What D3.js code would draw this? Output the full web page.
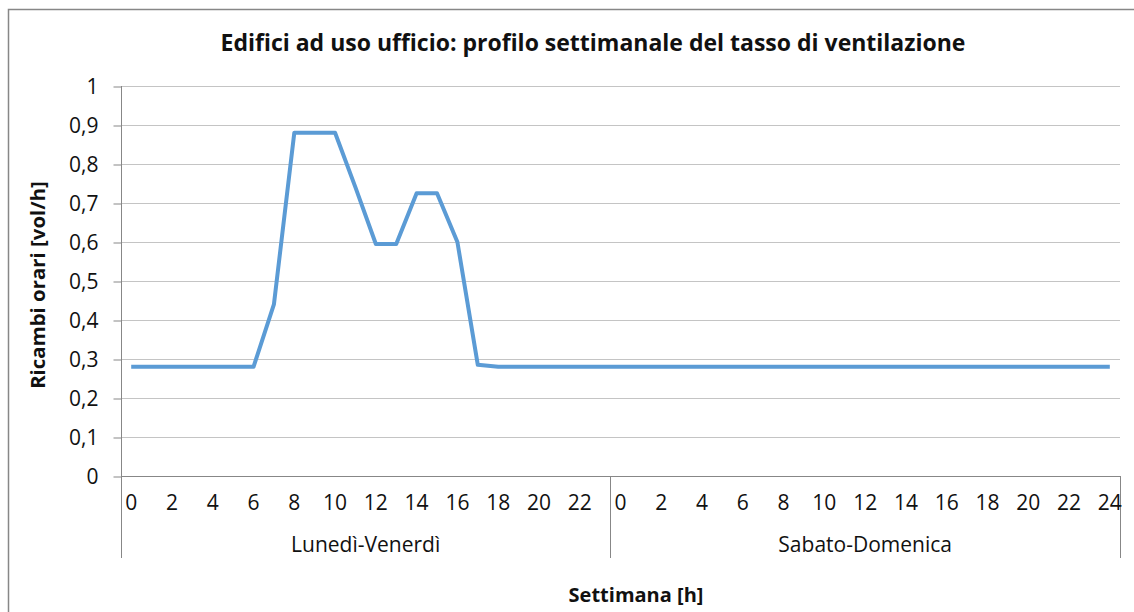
<!DOCTYPE html>
<html><head><meta charset="utf-8">
<script src="https://cdn.jsdelivr.net/npm/d3@7"></script>
<style>
html,body{margin:0;padding:0;background:#fff;}
svg{display:block;font-family:"Open Sans",sans-serif;}
</style></head>
<body>
<svg id="c" width="1134" height="612"></svg>
<script>
const title = "Edifici ad uso ufficio: profilo settimanale del tasso di ventilazione";
const yTitle = "Ricambi orari [vol/h]";
const xTitle = "Settimana [h]";
const groups = ["Lunedì-Venerdì", "Sabato-Domenica"];
const weekdayHours = [0,1,2,3,4,5,6,7,8,9,10,11,12,13,14,15,16,17,18,19,20,21,22,23];
const weekendHours = [0,1,2,3,4,5,6,7,8,9,10,11,12,13,14,15,16,17,18,19,20,21,22,23,24];
const weekdayValues = [0.28,0.28,0.28,0.28,0.28,0.28,0.28,0.44,0.88,0.88,0.88,0.74,0.595,0.595,0.725,0.725,0.6,0.285,0.28,0.28,0.28,0.28,0.28,0.28];
const weekendValues = [0.28,0.28,0.28,0.28,0.28,0.28,0.28,0.28,0.28,0.28,0.28,0.28,0.28,0.28,0.28,0.28,0.28,0.28,0.28,0.28,0.28,0.28,0.28,0.28,0.28];
const yTicks = [0,0.1,0.2,0.3,0.4,0.5,0.6,0.7,0.8,0.9,1];

const data = [];
weekdayHours.forEach((h,i)=>data.push({g:0,h:h,v:weekdayValues[i]}));
weekendHours.forEach((h,i)=>data.push({g:1,h:h,v:weekendValues[i]}));
data.forEach((d,i)=>d.i=i);

const svg = d3.select("#c");
const L=121, R=1120, T=86, B=476;
const tickFont = 21, txtColor = "#111";

// frame
svg.append("rect").attr("x",8.5).attr("y",9.5).attr("width",1140).attr("height",620)
  .attr("fill","none").attr("stroke","#878787").attr("stroke-width",1.5);

const x = d3.scaleBand().domain(data.map(d=>d.i)).range([L,R]).padding(0);
const y = d3.scaleLinear().domain([0,1]).range([B,T]);
const cx = i => x(i)+x.bandwidth()/2;

// gridlines
svg.append("g").selectAll("line").data(yTicks.filter(t=>t>0)).join("line")
  .attr("x1",L).attr("x2",R).attr("y1",d=>Math.round(y(d))+0.5).attr("y2",d=>Math.round(y(d))+0.5)
  .attr("stroke","#c4c4c4").attr("stroke-width",1);

// y axis
const ya = svg.append("g").attr("transform",`translate(${L+0.5},0)`)
  .call(d3.axisLeft(y).tickValues(yTicks).tickSize(8).tickPadding(15)
    .tickFormat(d=>d3.format("~g")(d).replace(".",",")));
ya.select(".domain").attr("stroke","#878787").attr("d",`M0,${T}V${B}`);
ya.selectAll(".tick line").attr("stroke","#878787").attr("transform",d=>`translate(0,${Math.round(y(d))+0.5-y(d)})`);
ya.selectAll(".tick text").attr("font-size",tickFont).attr("fill",txtColor).attr("font-family","'Open Sans',sans-serif").attr("dy","0.36em");

// x axis baseline
svg.append("line").attr("x1",L).attr("x2",R).attr("y1",B+0.5).attr("y2",B+0.5).attr("stroke","#878787");
// group separators
const sepX = [x(0), x(weekdayHours.length), R];
svg.append("g").selectAll("line").data(sepX).join("line")
  .attr("x1",d=>Math.round(d)+0.5).attr("x2",d=>Math.round(d)+0.5).attr("y1",B).attr("y2",558)
  .attr("stroke","#878787");

// category labels
svg.append("g").selectAll("text").data(data.filter(d=>d.h%2===0)).join("text")
  .attr("x",d=>cx(d.i)).attr("y",510).attr("text-anchor","middle")
  .attr("font-size",tickFont).attr("fill",txtColor).text(d=>d.h);

// group labels
groups.forEach((g,gi)=>{
  const idx = data.filter(d=>d.g===gi).map(d=>d.i);
  const a = x(idx[0]), b = x(idx[idx.length-1])+x.bandwidth();
  svg.append("text").attr("x",(a+b)/2).attr("y",552).attr("text-anchor","middle")
    .attr("font-size",tickFont).attr("fill",txtColor).text(g);
});

// line
svg.append("path").datum(data)
  .attr("d",d3.line().x(d=>cx(d.i)).y(d=>y(d.v)))
  .attr("fill","none").attr("stroke","#5b9bd5").attr("stroke-width",4).attr("stroke-linejoin","round");

// titles
svg.append("text").attr("x",593).attr("y",51).attr("text-anchor","middle")
  .attr("font-size",23).attr("font-weight","bold").attr("fill",txtColor).text(title);
svg.append("text").attr("transform","translate(45,285) rotate(-90)").attr("text-anchor","middle")
  .attr("font-size",20.4).attr("font-weight","bold").attr("fill",txtColor).text(yTitle);
svg.append("text").attr("x",636).attr("y",602).attr("text-anchor","middle")
  .attr("font-size",20).attr("font-weight","bold").attr("fill",txtColor).text(xTitle);
</script>
</body></html>
